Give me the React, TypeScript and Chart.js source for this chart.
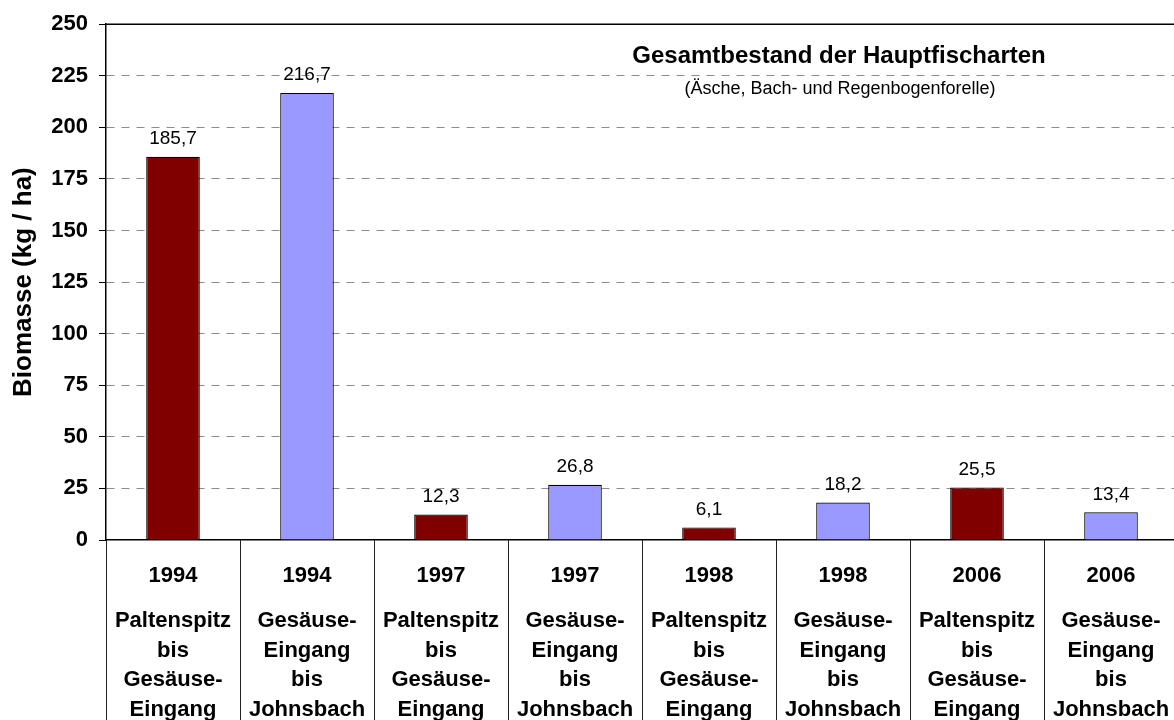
import React, { useEffect, useRef } from "react";
import { Chart, registerables } from "chart.js";

Chart.register(...registerables);

const years = ["1994", "1994", "1997", "1997", "1998", "1998", "2006", "2006"];
const sectionA = ["Paltenspitz", "bis", "Gesäuse-", "Eingang"];
const sectionB = ["Gesäuse-", "Eingang", "bis", "Johnsbach"];
const sections = [sectionA, sectionB, sectionA, sectionB, sectionA, sectionB, sectionA, sectionB];
const biomass = [185.7, 216.7, 12.3, 26.8, 6.1, 18.2, 25.5, 13.4];
const yTicks = [0, 25, 50, 75, 100, 125, 150, 175, 200, 225, 250];
const title = "Gesamtbestand der Hauptfischarten";
const subtitle = "(Äsche, Bach- und Regenbogenforelle)";
const yTitle = "Biomasse (kg / ha)";

const FONT = "'Liberation Sans', Arial, sans-serif";
const RED = "#800000";
const BLUE = "#9999FF";

const decorPlugin = {
  id: "decor",
  afterDatasetsDraw(chart: any) {
    const { ctx, chartArea } = chart;
    const xs = chart.scales.x;
    const n = years.length;
    const w = (chartArea.right - chartArea.left) / n;
    ctx.save();
    // top border
    ctx.strokeStyle = "#000";
    ctx.lineWidth = 1.5;
    ctx.beginPath();
    ctx.moveTo(chartArea.left, chartArea.top);
    ctx.lineTo(chartArea.right, chartArea.top);
    ctx.stroke();
    // value labels
    const meta = chart.getDatasetMeta(0);
    ctx.fillStyle = "#000";
    ctx.font = `19px ${FONT}`;
    ctx.textAlign = "center";
    ctx.textBaseline = "alphabetic";
    meta.data.forEach((el: any, i: number) => {
      ctx.fillText(biomass[i].toFixed(1).replace(".", ","), el.x, el.y - 12.5);
    });
    // category dividers
    ctx.lineWidth = 1;
    ctx.strokeStyle = "#222";
    for (let i = 0; i <= n; i++) {
      const cx = i < n ? xs.getPixelForValue(i) - w / 2 : xs.getPixelForValue(n - 1) + w / 2;
      const px = Math.round(cx) + 0.5;
      ctx.beginPath();
      ctx.moveTo(px, chartArea.bottom);
      ctx.lineTo(px, chart.height);
      ctx.stroke();
    }
    // category labels
    ctx.font = `bold 22px ${FONT}`;
    ctx.textBaseline = "middle";
    for (let i = 0; i < n; i++) {
      const cx = xs.getPixelForValue(i);
      ctx.fillText(years[i], cx, chartArea.bottom + 36);
      sections[i].forEach((s, j) => {
        ctx.fillText(s, cx, chartArea.bottom + 81 + j * 29.5);
      });
    }
    // title
    ctx.textBaseline = "alphabetic";
    ctx.font = `bold 24px ${FONT}`;
    ctx.fillText(title, 839, 63);
    ctx.font = `18px ${FONT}`;
    ctx.fillText(subtitle, 840, 94);
    ctx.restore();
  },
};

export default function App() {
  const ref = useRef<HTMLCanvasElement>(null);
  useEffect(() => {
    if (!ref.current) return;
    const chart = new Chart(ref.current, {
      type: "bar",
      data: {
        labels: years.map((y, i) => [y, ...sections[i]]),
        datasets: [
          {
            data: biomass,
            backgroundColor: biomass.map((_, i) => (i % 2 === 0 ? RED : BLUE)),
            borderColor: "#000",
            borderWidth: 1.2,
            barPercentage: 0.4,
            categoryPercentage: 1,
          },
        ],
      },
      options: {
        responsive: false,
        animation: false,
        devicePixelRatio: 1,
        layout: { padding: { top: 22, right: 2, left: 0, bottom: 0 } },
        plugins: { legend: { display: false }, tooltip: { enabled: false } },
        scales: {
          x: {
            ticks: { display: false },
            grid: { display: false },
            border: { display: true, color: "#000", width: 1.5 },
            afterFit: (s: any) => {
              s.height = 180;
            },
          },
          y: {
            min: 0,
            max: 250,
            afterBuildTicks: (s: any) => {
              s.ticks = yTicks.map((v) => ({ value: v }));
            },
            ticks: {
              color: "#000",
              padding: 11,
              font: { family: FONT, size: 22, weight: "bold" },
            },
            grid: {
              color: (c: any) =>
                c.tick && (c.tick.value === 0 || c.tick.value === 250) ? "rgba(0,0,0,0)" : "#8c8c8c",
              tickColor: "#000",
              tickLength: 7,
              lineWidth: 1,
            },
            border: { display: true, color: "#000", width: 1.5, dash: [8, 7] },
            title: {
              display: true,
              text: yTitle,
              color: "#000",
              font: { family: FONT, size: 26, weight: "bold" },
              padding: { top: 8, bottom: 0 },
            },
            afterFit: (s: any) => {
              s.width = 106;
            },
          },
        },
      },
      plugins: [decorPlugin],
    });
    return () => chart.destroy();
  }, []);
  return (
    <div
      style={{
        position: "fixed",
        left: 0,
        top: 0,
        width: 1174,
        height: 720,
        overflow: "hidden",
        background: "#fff",
      }}
    >
      <canvas ref={ref} width={1180} height={720} style={{ display: "block" }} />
    </div>
  );
}
